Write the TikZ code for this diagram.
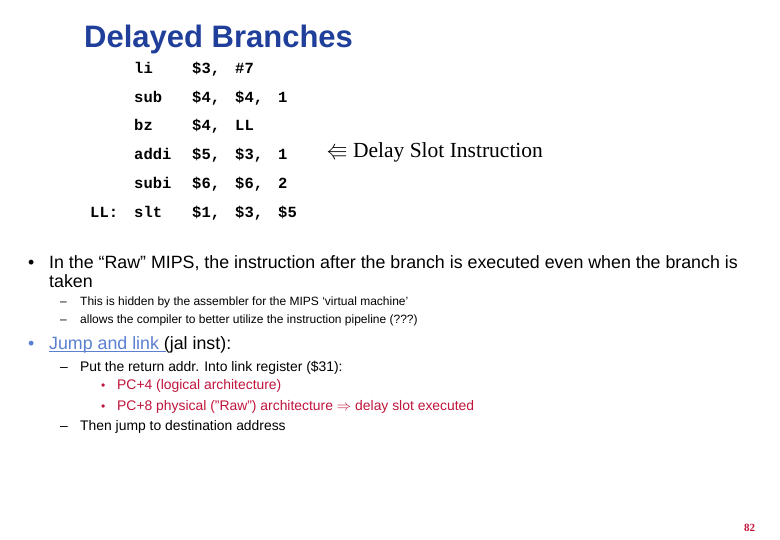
\documentclass[tikz,border=0pt]{standalone}
\usepackage{fontspec}
\setmainfont{Liberation Sans}
\newfontfamily\monob{Liberation Mono}[BoldFont={Liberation Mono Bold}]
\newfontfamily\timesf{Liberation Serif}
\usepackage{amssymb}
\definecolor{titleblue}{HTML}{1F3F9A}
\definecolor{linkblue}{HTML}{5B7FD1}
\definecolor{redtxt}{HTML}{C0143C}
\begin{document}
\begin{tikzpicture}[x=1pt,y=-1pt,
  t/.style={anchor=base west,inner sep=0pt},
  code/.style={t,font=\monob\bfseries\fontsize{15.5}{16}\selectfont},
  big/.style={t,font=\fontsize{17.8}{19}\selectfont},
  small/.style={t,font=\fontsize{12}{13}\selectfont},
  mid/.style={t,font=\fontsize{13.9}{15}\selectfont}]
\useasboundingbox[fill=white] (0,0) rectangle (780,540);
\node[t,font=\bfseries\fontsize{31}{34}\selectfont,text=titleblue] (title) at (84,48) {Delayed Branches};
\node[code] (m1) at (134,74) {li};   \node[code] (p1) at (192,74) {\$3,}; \node[code] (q1) at (235,74) {\#7};
\node[code] (m2) at (134,103) {sub}; \node[code] (p2) at (192,103) {\$4,}; \node[code] (q2) at (235,103) {\$4,}; \node[code] (r2) at (278,103) {1};
\node[code] (m3) at (134,131) {bz};  \node[code] (p3) at (192,131) {\$4,}; \node[code] (q3) at (235,131) {LL};
\node[code] (m4) at (134,160) {addi}; \node[code] (p4) at (192,160) {\$5,}; \node[code] (q4) at (235,160) {\$3,}; \node[code] (r4) at (278,160) {1};
\node[code] (m5) at (134,189) {subi}; \node[code] (p5) at (192,189) {\$6,}; \node[code] (q5) at (235,189) {\$6,}; \node[code] (r5) at (278,189) {2};
\node[code] (m6) at (134,218) {slt};  \node[code] (p6) at (192,218) {\$1,}; \node[code] (q6) at (235,218) {\$3,}; \node[code] (r6) at (278,218) {\$5};
\node[code] (ll) at (90,218) {LL:};
\node[t,font=\timesf\fontsize{21.5}{24}\selectfont] (ds) at (326,158) {$\Lleftarrow$ Delay Slot Instruction};
\node[big] (b1) at (28,269) {\textbullet};
\node[big] (l1) at (49,269) {In the “Raw” MIPS, the instruction after the branch is executed even when the branch is};
\node[big] (l1b) at (49,288) {taken};
\node[small] (d1) at (60,306) {–};
\node[small] (s1) at (80,306) {This is hidden by the assembler for the MIPS ‘virtual machine’};
\node[small] (d2) at (60,324) {–};
\node[small] (s2) at (80,324) {allows the compiler to better utilize the instruction pipeline (???)};
\node[big,text=linkblue] (b2) at (28,349) {\textbullet};
\node[big] (l2) at (49,349) {\textcolor{linkblue}{Jump and link} (jal inst):};
\draw[linkblue,line width=0.6pt] (49,351.5) -- (166,351.5);
\node[mid] (d3) at (60,372) {–};
\node[mid] (s3) at (80,372) {Put the return addr. Into link register (\$31):};
\node[small,text=redtxt] (c1) at (101,389) {\textbullet};
\node[mid,text=redtxt] (s4) at (117,389) {PC+4 (logical architecture)};
\node[small,text=redtxt] (c2) at (101,410) {\textbullet};
\node[mid,text=redtxt] (s5) at (117,410) {PC+8 physical ("Raw") architecture $\Rightarrow$ delay slot executed};
\node[mid] (d4) at (60,430) {–};
\node[mid] (s6) at (80,430) {Then jump to destination address};
\node[t,font=\timesf\bfseries\fontsize{11}{12}\selectfont,text=redtxt] (pg) at (744,531) {82};
\end{tikzpicture}
\end{document}
